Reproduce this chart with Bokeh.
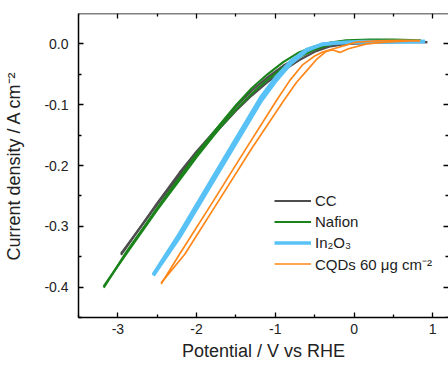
from bokeh.plotting import figure
from bokeh.models import LinearAxis, FixedTicker, Range1d, Legend, LegendItem
from bokeh.embed import file_html
from bokeh.resources import INLINE

# ---- data ----
x_ticks = [-3, -2, -1, 0, 1]
x_tick_labels = ["-3", "-2", "-1", "0", "1"]
x_minor = [-3.5, -2.5, -1.5, -0.5, 0.5]
y_ticks = [-0.4, -0.3, -0.2, -0.1, 0.0]
y_tick_labels = ["-0.4", "-0.3", "-0.2", "-0.1", "0.0"]
y_minor = [-0.45, -0.35, -0.25, -0.15, -0.05]

series_names = ["CC", "Nafion", "In\u2082O\u2083", "CQDs 60 \u03bcg cm\u207b\u00b2"]

cc_a_x = [0.93, 0.6, 0.3, 0.1, -0.1, -0.3, -0.5, -0.7, -0.9, -1.1, -1.3, -1.5, -1.7, -2.0, -2.217, -2.5, -2.96]
cc_a_y = [0.003, 0.004, 0.005, 0.004, 0.002, -0.002, -0.009, -0.021, -0.036, -0.055, -0.077, -0.103, -0.133, -0.177, -0.212, -0.262, -0.347]
cc_b_x = [-2.96, -2.5, -2.217, -2.0, -1.7, -1.5, -1.3, -1.1, -0.9, -0.7, -0.5, -0.3, -0.1, 0.1, 0.3, 0.6, 0.93]
cc_b_y = [-0.345, -0.264, -0.216, -0.181, -0.138, -0.110, -0.085, -0.063, -0.044, -0.027, -0.013, -0.004, 0.000, 0.001, 0.002, 0.003, 0.003]

naf_a_x = [0.85, 0.5, 0.2, -0.1, -0.3, -0.5, -0.7, -0.9, -1.1, -1.3, -1.5, -1.7, -2.0, -2.217, -2.5, -2.88, -3.18]
naf_a_y = [0.006, 0.007, 0.007, 0.006, 0.002, -0.004, -0.014, -0.030, -0.050, -0.073, -0.101, -0.132, -0.181, -0.220, -0.270, -0.340, -0.401]
naf_b_x = [-3.18, -2.88, -2.5, -2.217, -2.0, -1.7, -1.5, -1.3, -1.1, -0.9, -0.7, -0.5, -0.3, -0.1, 0.2, 0.5, 0.85]
naf_b_y = [-0.399, -0.343, -0.273, -0.224, -0.186, -0.137, -0.108, -0.082, -0.059, -0.039, -0.022, -0.009, -0.001, 0.003, 0.005, 0.005, 0.005]

ino_a_x = [0.9, 0.5, 0.1, -0.2, -0.4, -0.6, -0.8, -1.0, -1.175, -1.656, -2.217, -2.55]
ino_a_y = [0.004, 0.004, 0.004, 0.002, 0.000, -0.011, -0.032, -0.062, -0.093, -0.197, -0.318, -0.381]
ino_b_x = [-2.55, -2.217, -1.656, -1.175, -1.0, -0.8, -0.6, -0.4, -0.2, 0.1, 0.5, 0.9]
ino_b_y = [-0.379, -0.312, -0.190, -0.086, -0.056, -0.028, -0.009, -0.001, 0.002, 0.003, 0.003, 0.004]

cqd_a_x = [-2.45, -2.217, -1.8, -1.4, -0.985, -0.815, -0.65, -0.5, -0.41, -0.26, -0.1, 0.03, 0.3, 0.6, 0.84]
cqd_a_y = [-0.395, -0.346, -0.261, -0.178, -0.093, -0.060, -0.034, -0.020, -0.014, -0.008, -0.002, 0.003, 0.005, 0.006, 0.0055]
cqd_b_x = [-2.45, -2.15, -1.7, -1.3, -0.892, -0.73, -0.6, -0.48, -0.35, -0.27, -0.18, -0.07, 0.16, 0.4, 0.7, 0.84]
cqd_b_y = [-0.393, -0.346, -0.254, -0.172, -0.093, -0.063, -0.044, -0.026, -0.012, -0.010, -0.014, -0.008, 0.0, 0.003, 0.005, 0.0055]

FONT = "Liberation Sans"
X_MIN, X_MAX = -3.5, 1.2
Y_MIN, Y_MAX = -0.45, 0.05

p = figure(width=448, height=365,
           x_range=Range1d(X_MIN, X_MAX), y_range=Range1d(Y_MIN, Y_MAX),
           output_backend="svg", toolbar_location=None,
           x_axis_location=None, y_axis_location=None,
           min_border_left=78, min_border_top=13, min_border_bottom=48, min_border_right=0)
p.xgrid.visible = False
p.ygrid.visible = False
p.outline_line_color = None
p.background_fill_color = "white"
p.border_fill_color = "white"


def make_axis(ticks, labels, minor, show):
    ax = LinearAxis()
    ax.ticker = FixedTicker(ticks=ticks, minor_ticks=minor)
    ax.axis_line_color = "#000000"
    ax.axis_line_width = 1.5
    ax.major_tick_line_color = "#000000"
    ax.minor_tick_line_color = "#000000"
    ax.major_tick_line_width = 1.3
    ax.minor_tick_line_width = 1.3
    ax.major_tick_in = 5
    ax.major_tick_out = 0
    ax.minor_tick_in = 3
    ax.minor_tick_out = 0
    ax.major_label_text_font = FONT
    ax.major_label_text_font_size = "14px"
    ax.major_label_text_color = "#222222"
    ax.axis_label_text_font = FONT
    ax.axis_label_text_font_size = "18px"
    ax.axis_label_text_font_style = "normal"
    ax.axis_label_text_color = "#222222"
    if show:
        ax.major_label_overrides = {t: l for t, l in zip(ticks, labels)}
    else:
        ax.major_label_text_color = None
        ax.major_label_standoff = 0
    return ax


xb = make_axis(x_ticks, x_tick_labels, x_minor, True)
xb.axis_label = "Potential / V vs RHE"
xb.major_label_standoff = 6
xb.axis_label_standoff = 4
p.add_layout(xb, "below")

yl = make_axis(y_ticks, y_tick_labels, y_minor, True)
yl.axis_label = "Current density / A cm\u207b\u00b2"
yl.major_label_standoff = 10
yl.axis_label_standoff = 17
p.add_layout(yl, "left")

xt = make_axis(x_ticks, x_tick_labels, x_minor, False)
xt.fixed_location = Y_MAX
p.add_layout(xt, "above")
yr = make_axis(y_ticks, y_tick_labels, y_minor, False)
yr.fixed_location = X_MAX
yr.axis_line_color = None
p.add_layout(yr, "right")

GRAY = "#4d4d4d"
GREEN = "#1a841a"
BLUE = "#58c2f7"
ORANGE = "#ff8719"

r_cc = p.line(cc_a_x, cc_a_y, line_color=GRAY, line_width=2.2)
p.line(cc_b_x, cc_b_y, line_color=GRAY, line_width=2.2)
r_naf = p.line(naf_a_x, naf_a_y, line_color=GREEN, line_width=2.2)
p.line(naf_b_x, naf_b_y, line_color=GREEN, line_width=2.2)
r_ino = p.line(ino_a_x, ino_a_y, line_color=BLUE, line_width=3.5)
p.line(ino_b_x, ino_b_y, line_color=BLUE, line_width=3.5)
r_cqd = p.line(cqd_a_x, cqd_a_y, line_color=ORANGE, line_width=1.7)
p.line(cqd_b_x, cqd_b_y, line_color=ORANGE, line_width=1.7)

legend = Legend(items=[LegendItem(label=n, renderers=[r]) for n, r in
                       zip(series_names, [r_cc, r_naf, r_ino, r_cqd])],
                location=(196, 43))
legend.border_line_color = None
legend.background_fill_alpha = 0
legend.padding = 0
legend.margin = 0
legend.spacing = 0
legend.glyph_width = 37
legend.glyph_height = 21
legend.label_height = 21
legend.label_standoff = 4
legend.label_text_font = FONT
legend.label_text_font_size = "15px"
legend.label_text_color = "#222222"
p.add_layout(legend, "center")

open("out.html", "w").write(file_html(p, INLINE))
